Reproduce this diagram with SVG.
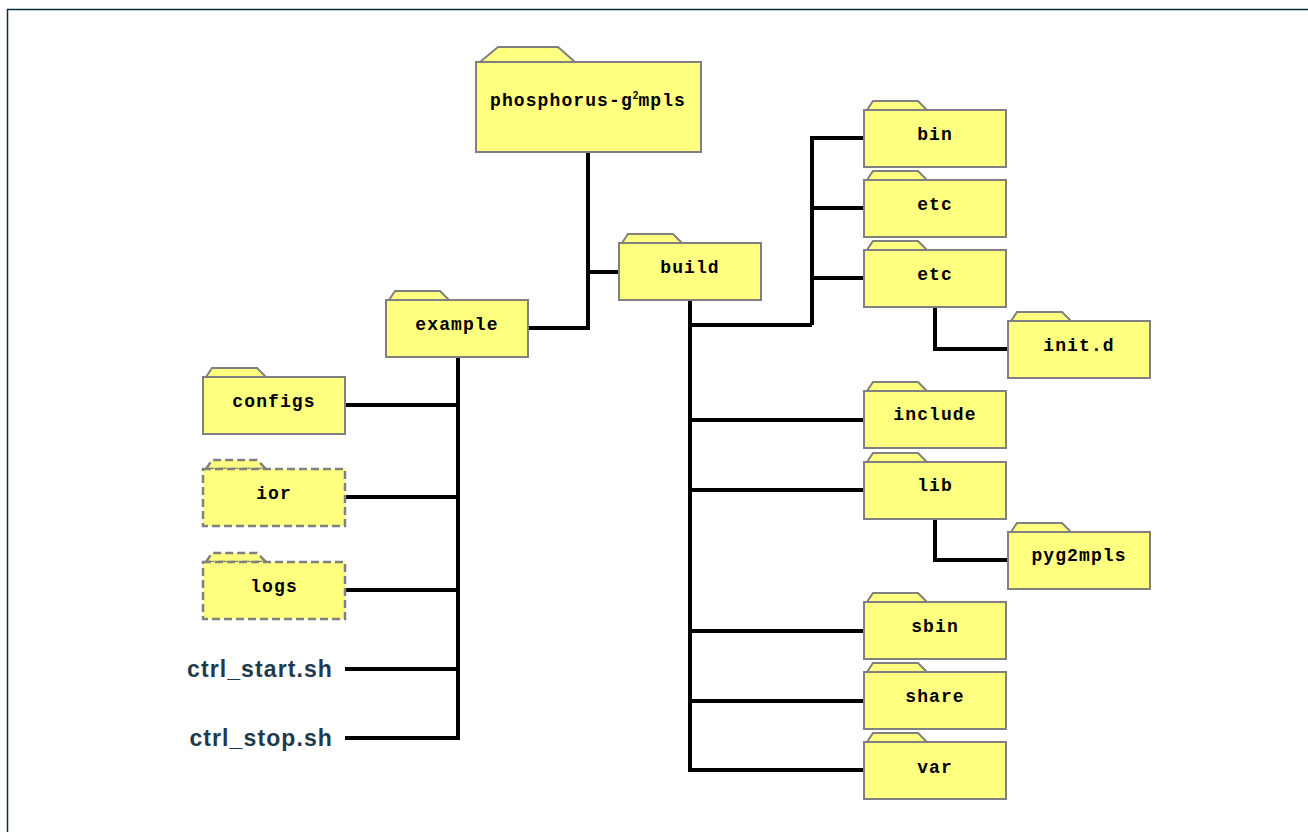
<svg xmlns="http://www.w3.org/2000/svg" width="1308" height="832" viewBox="0 0 1308 832">
<style>
.body{fill:#ffff80;stroke:#808080;stroke-width:2}
.dash{stroke-dasharray:8,4;stroke-width:2.5}
.lbl{font-family:"Liberation Mono","Courier New",monospace;font-weight:bold;font-size:18px;letter-spacing:1.1px;fill:#000;text-anchor:middle;dominant-baseline:central}
.file{font-family:"Liberation Sans",Arial,sans-serif;font-weight:bold;font-size:23px;letter-spacing:1.1px;fill:#1f3a4d;text-anchor:end}
.conn{fill:none;stroke:#000;stroke-width:4}
</style>
<defs>
<g id="folder">
<polygon class="body" points="3,0 9,-9 54,-9 63,0"/>
<rect class="body" x="0" y="0" width="142" height="57"/>
</g>
<g id="folderd">
<polygon class="body dash" points="3,0 9,-9 54,-9 63,0"/>
<rect class="body dash" x="0" y="0" width="142" height="57"/>
</g>
</defs>
<rect x="7.5" y="9.5" width="1320" height="840" fill="none" stroke="#0b2e38" stroke-width="1.5"/>
<g id="connectors">
<path class="conn" d="M588,152 V328 H529 M588,272 H619"/>
<path class="conn" d="M458,357 V738 H345 M458,405 H344 M458,497 H345 M458,590 H345 M458,669 H345"/>
<path class="conn" d="M690,301 V770 H864 M690,325 H812 M812,325 V138 H864 M812,208 H864 M812,278 H864 M690,420 H864 M690,490 H864 M690,631 H864 M690,701 H864"/>
<path class="conn" d="M935,307 V349 H1008 M935,519 V560 H1008"/>
</g>
<g id="root">
<polygon class="body" points="480,62 498,47 558,47 575,62"/>
<rect class="body" x="476" y="62" width="225" height="90"/>
<text class="lbl" x="588" y="101">phosphorus-g<tspan font-family="Liberation Sans,Arial,sans-serif" font-size="10" dy="-6" letter-spacing="0">2</tspan><tspan dy="6">mpls</tspan></text>
</g>
<g id="build"><use href="#folder" x="619" y="243"/><text class="lbl" x="690" y="268">build</text></g>
<g id="example"><use href="#folder" x="386" y="300"/><text class="lbl" x="457" y="325">example</text></g>
<g id="configs"><use href="#folder" x="203" y="377"/><text class="lbl" x="274" y="402">configs</text></g>
<g id="ior"><use href="#folderd" x="203" y="469"/><text class="lbl" x="274" y="494">ior</text></g>
<g id="logs"><use href="#folderd" x="203" y="562"/><text class="lbl" x="274" y="587">logs</text></g>
<g id="ctrl_start"><text class="file" x="333" y="677">ctrl_start.sh</text></g>
<g id="ctrl_stop"><text class="file" x="333" y="746">ctrl_stop.sh</text></g>
<g id="bin"><use href="#folder" x="864" y="110"/><text class="lbl" x="935" y="135">bin</text></g>
<g id="etc1"><use href="#folder" x="864" y="180"/><text class="lbl" x="935" y="205">etc</text></g>
<g id="etc2"><use href="#folder" x="864" y="250"/><text class="lbl" x="935" y="275">etc</text></g>
<g id="initd"><use href="#folder" x="1008" y="321"/><text class="lbl" x="1079" y="346">init.d</text></g>
<g id="include"><use href="#folder" x="864" y="391"/><text class="lbl" x="935" y="415">include</text></g>
<g id="lib"><use href="#folder" x="864" y="462"/><text class="lbl" x="935" y="486">lib</text></g>
<g id="pyg2mpls"><use href="#folder" x="1008" y="532"/><text class="lbl" x="1079" y="556">pyg2mpls</text></g>
<g id="sbin"><use href="#folder" x="864" y="602"/><text class="lbl" x="935" y="627">sbin</text></g>
<g id="share"><use href="#folder" x="864" y="672"/><text class="lbl" x="935" y="697">share</text></g>
<g id="var"><use href="#folder" x="864" y="742"/><text class="lbl" x="935" y="768">var</text></g>
</svg>
